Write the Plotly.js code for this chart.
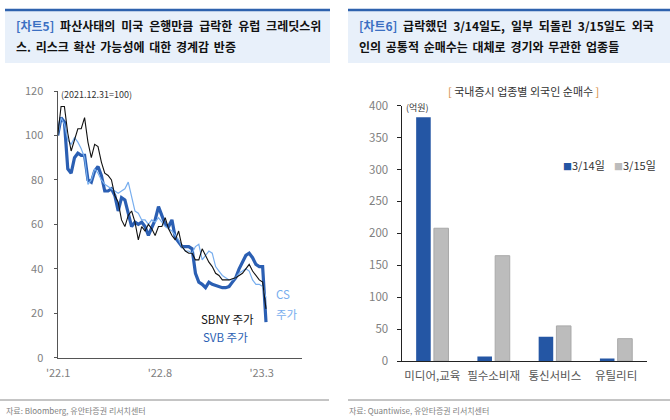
<!DOCTYPE html>
<html><head><meta charset="utf-8">
<script src="https://cdn.plot.ly/plotly-3.0.1.min.js"></script>
<style>html,body{margin:0;padding:0;background:#fff}#chart{width:670px;height:420px}</style>
</head><body><div id="chart"></div>
<script>
// ---- Chart 5 data (2021.12.31 = 100), weekly ----
const dates = ["2021-12-31","2022-01-07","2022-01-14","2022-01-21","2022-01-28","2022-02-04","2022-02-11","2022-02-18","2022-02-25","2022-03-04","2022-03-11","2022-03-18","2022-03-25","2022-04-01","2022-04-08","2022-04-15","2022-04-22","2022-04-29","2022-05-06","2022-05-13","2022-05-20","2022-05-27","2022-06-03","2022-06-10","2022-06-17","2022-06-24","2022-07-01","2022-07-08","2022-07-15","2022-07-22","2022-07-29","2022-08-05","2022-08-12","2022-08-19","2022-08-26","2022-09-02","2022-09-09","2022-09-16","2022-09-23","2022-09-30","2022-10-07","2022-10-14","2022-10-21","2022-10-28","2022-11-04","2022-11-11","2022-11-18","2022-11-25","2022-12-02","2022-12-09","2022-12-16","2022-12-23","2022-12-30","2023-01-06","2023-01-13","2023-01-20","2023-01-27","2023-02-03","2023-02-10","2023-02-17","2023-02-24","2023-03-03","2023-03-10"];
const sbny = [100,113,113,101,93,98,103,103,108,97,90,96,95,88,83,82,80,73,70,62,59,64,66,61,53,59,57,60,58,55,59,59,63,58,55,53,57,50,48,47,47,44,44,49,46,43,41,38,37,35,35,35,35.5,36,37,38,40,42,39,37,35,34,22];
const svb  = [100,108,106,85,83,90,92,91,91,80,79,84,86,82,75,75,76,73,66,72,71,65,59,61,60,61,59,55,59,62,68,64,60,59,62,54,52,50,50,50,49,38,34,33,31.5,34,33,32.5,32,31.5,31.5,32,34,36,40,43,46,47,45,42,41,41,16];
const cs   = [100,108,105,98,96,99,97,94,90,78,80,85,83,80,78,77,76,75,74,75,76,79,73,66,65,62,62,60,62,61,63,61,59,58,57,55,53,50,48,48,47,50,51,44,46,48,47,41,39,37,36,35,35,36,38,39,40,39,35,33,33,32,27];
const xTickVals = ["2022-01-01","2022-08-01","2023-03-01"];
const xTickText = ["'22.1","'22.8","'23.3"];
const yTicks5 = [0,20,40,60,80,100,120];

// ---- Chart 6 data (억원) ----
const sectors = ["미디어,교육","필수소비재","통신서비스","유틸리티"];
const buy0314 = [382,7,38,4];
const buy0315 = [208,165,55,35];
const yTicks6 = [0,50,100,150,200,250,300,350,400];

const W = 670, H = 420;
const px = x => x / W, py = y => 1 - y / H;
const FONT = "'Noto Sans CJK KR','Noto Sans',sans-serif";
const DARK = "#2b5fb3", LIGHT = "#78aeee";

const traces = [
  {x: dates, y: svb, type: 'scatter', mode: 'lines', line: {color: DARK, width: 3.2}, xaxis: 'x', yaxis: 'y', showlegend: false},
  {x: dates, y: cs, type: 'scatter', mode: 'lines', line: {color: LIGHT, width: 1.2}, xaxis: 'x', yaxis: 'y', showlegend: false},
  {x: dates, y: sbny, type: 'scatter', mode: 'lines', line: {color: '#111', width: 1.1}, xaxis: 'x', yaxis: 'y', showlegend: false},
  {x: sectors, y: buy0314, type: 'bar', name: '3/14일', marker: {color: '#2456a4'}, xaxis: 'x2', yaxis: 'y2', showlegend: false},
  {x: sectors, y: buy0315, type: 'bar', name: '3/15일', marker: {color: '#bcbcbc', line: {color: '#a9a9a9', width: 1}}, xaxis: 'x2', yaxis: 'y2', showlegend: false}
];

const ann = [];
function A(text, x, y, opts) {
  ann.push(Object.assign({text, x: px(x), y: py(y), xref: 'paper', yref: 'paper', showarrow: false,
    xanchor: 'left', yanchor: 'middle', font: {family: FONT, size: 11, color: '#222'}}, opts || {}));
}
const sp = (s, extra) => s.split(' ').join(' ' + extra);
// headers
const hdrFont = {family: FONT, size: 12, color: '#111', weight: 700};
A('<span style="color:#3b6fc2">[차트5]</span>' + sp(' 파산사태의 미국 은행만큼 급락한 유럽 크레딧스위', '\u2009\u200A'), 14, 25, {font: hdrFont});
A(sp('스. 리스크 확산 가능성에 대한 경계감 반증', '\u2006'), 14, 46, {font: hdrFont});
A('<span style="color:#3b6fc2">[차트6]</span>' + sp(' 급락했던 3/14일도, 일부 되돌린 3/15일도 외국', '\u2009\u200A'), 357, 25, {font: hdrFont});
A(sp('인의 공통적 순매수는 대체로 경기와 무관한 업종들', '\u2006'), 357, 46, {font: hdrFont});
// left chart labels
A('(2021.12.31=100)', 59, 95, {font: {family: FONT, size: 9, color: '#333'}});
A('SBNY 주가', 199, 319, {font: {family: FONT, size: 11.5, color: '#111'}});
A('SVB 주가', 201, 337, {font: {family: FONT, size: 11.5, color: DARK}});
A('CS', 274, 294, {font: {family: FONT, size: 11.5, color: LIGHT}});
A('주가', 274, 314, {font: {family: FONT, size: 11.5, color: LIGHT}});
// right chart labels
A('<span style="color:#d48a3a">[</span> 국내증시 업종별 외국인 순매수 <span style="color:#d48a3a">]</span>', 523, 91, {xanchor: 'center', font: {family: FONT, size: 11, color: '#333'}});
A('(억원)', 404, 108, {font: {family: FONT, size: 9, color: '#333'}});
A('<span style="color:#2456a4;font-size:9px">■</span>3/14일', 561, 165, {font: {family: FONT, size: 11, color: '#333'}});
A('<span style="color:#bcbcbc;font-size:9px">■</span>3/15일', 612, 165, {font: {family: FONT, size: 11, color: '#333'}});
// footers
A('자료: Bloomberg, 유안타증권 리서치센터', 4, 410, {font: {family: FONT, size: 8, color: '#808080'}});
A('자료: Quantiwise, 유안타증권 리서치센터', 347, 410, {font: {family: FONT, size: 8, color: '#808080'}});

const shapes = [];
function rect(x0, y0, x1, y1, fill) { shapes.push({type: 'rect', xref: 'paper', yref: 'paper', x0: px(x0), x1: px(x1), y0: py(y1), y1: py(y0), fillcolor: fill, line: {width: 0}, layer: 'below'}); }
function hline(x0, x1, y, color, w) { shapes.push({type: 'line', xref: 'paper', yref: 'paper', x0: px(x0), x1: px(x1), y0: py(y), y1: py(y), line: {color, width: w}}); }
rect(5, 11, 330, 63, '#e8f0fa');
rect(348, 11, 670, 63, '#e8f0fa');
hline(5, 330, 10, '#2e62ae', 2.5);
hline(348, 670, 10, '#2e62ae', 2.5);
hline(0, 329, 400, '#8a8a8a', 1);
hline(348, 670, 400, '#8a8a8a', 1);

const tickFont = {family: FONT, size: 11, color: '#808080'};
const layout = {
  width: W, height: H, margin: {l: 0, r: 0, t: 0, b: 0},
  paper_bgcolor: '#fff', plot_bgcolor: 'rgba(0,0,0,0)',
  font: {family: FONT},
  bargap: 0.42, bargroupgap: 0.18,
  xaxis: {domain: [px(57.7), px(302)], type: 'date', range: ['2021-12-31', '2023-05-24'],
    tickvals: xTickVals, ticktext: xTickText, tickfont: tickFont, showgrid: false, zeroline: false,
    showline: true, linecolor: '#555', linewidth: 1.2, ticks: '', ticklabelstandoff: 5, anchor: 'y'},
  yaxis: {domain: [py(357.7), py(91)], range: [0, 120], tickvals: yTicks5, tickfont: tickFont,
    showgrid: false, zeroline: false, showline: true, linecolor: '#555', linewidth: 1.2,
    ticks: 'outside', ticklen: 3, tickcolor: '#555', ticklabelstandoff: 8, anchor: 'x'},
  xaxis2: {domain: [px(401.7), px(646.7)], type: 'category', tickfont: {family: FONT, size: 11.5, color: '#555'},
    showgrid: false, zeroline: false, showline: true, linecolor: '#222', linewidth: 1.2, ticks: '', ticklabelstandoff: 4, anchor: 'y2'},
  yaxis2: {domain: [py(361), py(105.7)], range: [0, 400], tickvals: yTicks6, tickfont: {family: FONT, size: 11.5, color: '#808080'},
    showgrid: false, zeroline: false, showline: true, linecolor: '#222', linewidth: 1.2,
    ticks: 'outside', ticklen: 4, tickcolor: '#222', ticklabelstandoff: 6, anchor: 'x2'},
  annotations: ann, shapes: shapes, showlegend: false
};
Plotly.newPlot('chart', traces, layout, {staticPlot: true, displayModeBar: false});
</script></body></html>
